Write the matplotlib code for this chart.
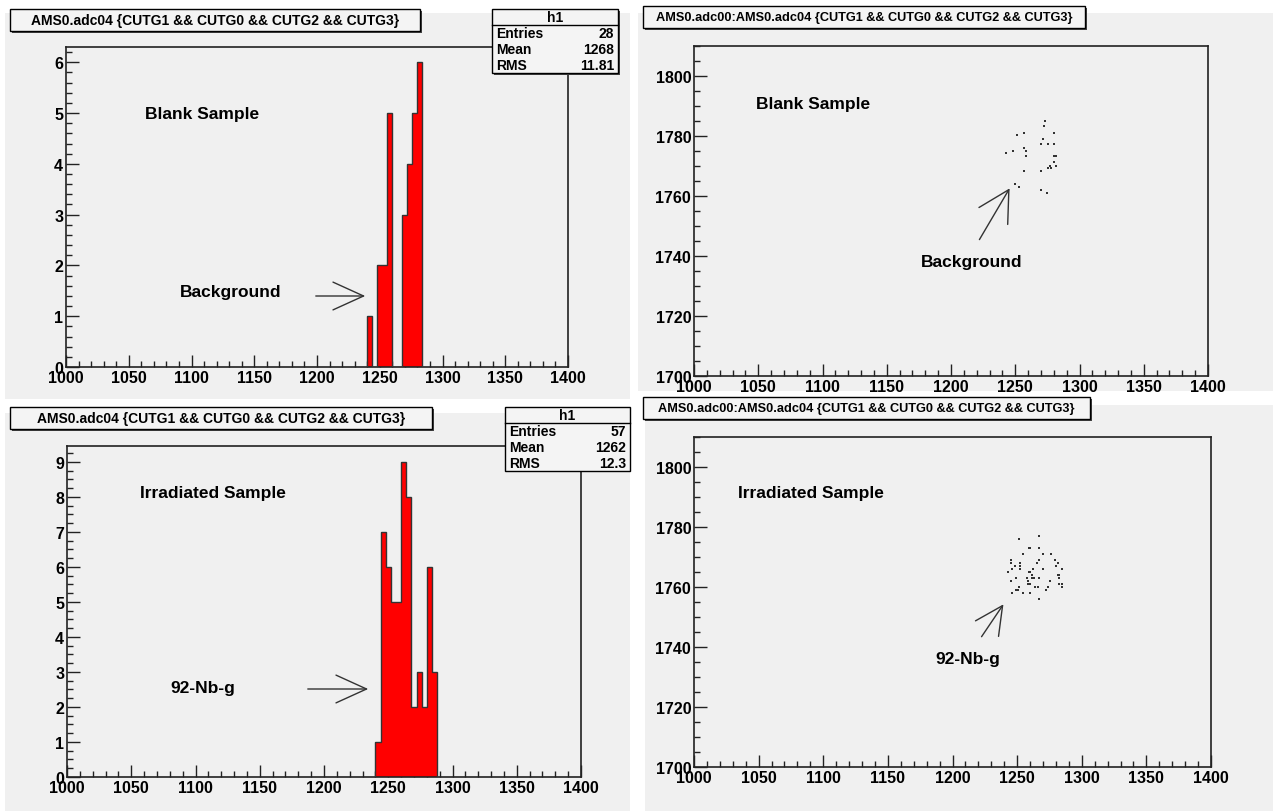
import matplotlib
matplotlib.use("Agg")
import matplotlib.pyplot as plt
from matplotlib.patches import Rectangle, FancyArrowPatch
from matplotlib.ticker import MultipleLocator
import numpy as np

# ---------------- data ----------------
blank_edges = [1240, 1244, 1248, 1252, 1256, 1260, 1264, 1268, 1272, 1276, 1280, 1284]
blank_counts = [1, 0, 2, 2, 5, 0, 0, 3, 4, 5, 6]
irr_edges = [1240, 1244, 1248, 1252, 1256, 1260, 1264, 1268, 1272, 1276, 1280, 1284, 1288]
irr_counts = [1, 7, 6, 5, 5, 9, 8, 2, 3, 2, 6, 3]

blank_adc04 = [1273.5, 1272.5, 1256.7, 1280.5, 1251.5, 1271.5, 1269.7, 1275.6, 1279.8,
               1256.7, 1248.4, 1258.5, 1242.5, 1258.5, 1279.8, 1281.6, 1280.5, 1277.4,
               1281.6, 1275.6, 1277.7, 1256.7, 1269.7, 1249.7, 1252.8, 1270.4, 1274.6]
blank_adc00 = [1785.1, 1783.2, 1781.1, 1781.1, 1780.2, 1779.1, 1777.2, 1777.2, 1777.2,
               1776.1, 1775.1, 1775.1, 1774.2, 1773.2, 1773.2, 1773.2, 1771.2, 1770.1,
               1770.1, 1769.2, 1769.2, 1768.2, 1768.2, 1764.1, 1763.1, 1762.1, 1761.1]

irr_adc04 = [1267.0, 1251.3, 1259.0, 1260.0, 1266.6, 1254.2, 1270.1, 1276.3, 1245.1, 1266.6,
             1279.2, 1245.6, 1252.1, 1265.5, 1281.3, 1248.2, 1252.1, 1280.2, 1245.9, 1252.1,
             1262.1, 1270.1, 1285.1, 1243.3, 1259.0, 1260.0, 1261.4, 1281.3, 1282.3, 1249.0,
             1257.5, 1261.4, 1263.1, 1266.6, 1282.3, 1245.1, 1258.3, 1275.3, 1258.3, 1260.0,
             1282.3, 1285.1, 1251.3, 1264.2, 1266.3, 1274.0, 1284.4, 1249.2, 1250.3, 1272.2,
             1245.9, 1254.9, 1260.0, 1267.0]
irr_adc00 = [1776.9, 1776.0, 1773.0, 1773.0, 1773.0, 1771.0, 1771.0, 1771.0, 1769.0, 1769.0,
             1769.0, 1767.9, 1767.9, 1767.9, 1767.9, 1767.0, 1767.0, 1767.0, 1766.0, 1766.0,
             1766.0, 1766.0, 1766.0, 1765.0, 1764.9, 1764.9, 1763.9, 1763.9, 1763.9, 1762.9,
             1762.9, 1762.9, 1762.9, 1762.9, 1762.9, 1761.9, 1761.9, 1761.9, 1760.9, 1760.9,
             1760.9, 1760.9, 1759.9, 1759.9, 1759.9, 1759.9, 1759.9, 1758.9, 1758.9, 1758.9,
             1758.0, 1758.0, 1758.0, 1755.9]

hist_title = "AMS0.adc04 {CUTG1 && CUTG0 && CUTG2 && CUTG3}"
scat_title = "AMS0.adc00:AMS0.adc04 {CUTG1 && CUTG0 && CUTG2 && CUTG3}"
stats_blank = [("Entries", "28"), ("Mean", "1268"), ("RMS", "11.81")]
stats_irr = [("Entries", "57"), ("Mean", "1262"), ("RMS", "12.3")]

# ---------------- figure ----------------
W, H = 1273, 812
plt.rcParams['font.family'] = ['Liberation Sans', 'DejaVu Sans']
fig = plt.figure(figsize=(W / 100, H / 100), dpi=100)
fig.patch.set_facecolor('white')
PAD = '#f0f0f0'


def fx(x):
    return x / W


def fy(y):
    return 1 - y / H


def add_rect(x0, y0, x1, y1, **kw):
    r = Rectangle((fx(x0), fy(y1)), fx(x1 - x0), (y1 - y0) / H, transform=fig.transFigure, **kw)
    fig.add_artist(r)
    return r


def px_axes(x0, y0, x1, y1):
    return fig.add_axes([fx(x0), fy(y1), fx(x1 - x0), (y1 - y0) / H])


def box(x0, y0, x1, y1, z=5, shadow=True):
    if shadow:
        add_rect(x0 + 2, y0 + 2, x1 + 2, y1 + 2, facecolor='#444444', edgecolor='none', zorder=z)
    add_rect(x0, y0, x1, y1, facecolor='#f4f4f4', edgecolor='black', linewidth=1.0, zorder=z + 0.1)


def text_px(x, y, s, **kw):
    fig.text(fx(x), fy(y), s, transform=fig.transFigure, **kw)


# pad backgrounds
add_rect(5, 14, 630, 400, facecolor=PAD, edgecolor='none', zorder=0)
add_rect(5, 414, 630, 812, facecolor=PAD, edgecolor='none', zorder=0)
add_rect(638, 14, 1273, 392, facecolor=PAD, edgecolor='none', zorder=0)
add_rect(645, 406, 1273, 812, facecolor=PAD, edgecolor='none', zorder=0)


def style_axes(ax, xmaj, xmin, ymaj, ymin):
    ax.set_facecolor(PAD)
    for s in ax.spines.values():
        s.set_linewidth(1.2)
        s.set_color('#222222')
    ax.xaxis.set_major_locator(MultipleLocator(xmaj))
    ax.xaxis.set_minor_locator(MultipleLocator(xmin))
    ax.yaxis.set_major_locator(MultipleLocator(ymaj))
    ax.yaxis.set_minor_locator(MultipleLocator(ymin))
    ax.tick_params(which='both', direction='in', top=False, right=False, width=1.0, color='#222222')
    ax.tick_params(which='major', length=9, labelsize=11.5, pad=2)
    ax.tick_params(which='minor', length=4.5)


def arrow(x0, y0, x1, y1, hl=20, hw=9):
    a = FancyArrowPatch((fx(x0), fy(y0)), (fx(x1), fy(y1)), transform=fig.transFigure,
                        arrowstyle='->,head_length=%g,head_width=%g' % (hl, hw), mutation_scale=1,
                        color='#333333', linewidth=1.0, zorder=10)
    fig.add_artist(a)


def set_ticks(ax, xt, yt):
    ax.set_xticks(xt)
    ax.set_xticklabels([str(v) for v in xt], fontweight='bold')
    ax.set_yticks(yt)
    ax.set_yticklabels([str(v) for v in yt], fontweight='bold')


xt = list(range(1000, 1401, 50))

# ---------- top-left histogram ----------
ax1 = px_axes(66, 48, 568, 368)
ax1.stairs(blank_counts, blank_edges, fill=True, color='#ff0000', zorder=2)
ax1.stairs(blank_counts, blank_edges, color='#333333', linewidth=1.0, baseline=0, zorder=3)
ax1.set_xlim(1000, 1400)
ax1.set_ylim(0, 6.3)
style_axes(ax1, 50, 10, 1, 0.2)
set_ticks(ax1, xt, list(range(0, 7)))

# ---------- bottom-left histogram ----------
ax2 = px_axes(67, 447, 581, 778)
ax2.stairs(irr_counts, irr_edges, fill=True, color='#ff0000', zorder=2)
ax2.stairs(irr_counts, irr_edges, color='#333333', linewidth=1.0, baseline=0, zorder=3)
ax2.set_xlim(1000, 1400)
ax2.set_ylim(0, 9.45)
style_axes(ax2, 50, 10, 1, 0.25)
set_ticks(ax2, xt, list(range(0, 10)))

# ---------- top-right scatter ----------
ax3 = px_axes(694, 47, 1208, 377)
ax3.scatter(blank_adc04, blank_adc00, s=1.5, color='#333333', marker='s', linewidths=0)
ax3.set_xlim(1000, 1400)
ax3.set_ylim(1700, 1810)
style_axes(ax3, 50, 10, 20, 5)
set_ticks(ax3, xt, list(range(1700, 1801, 20)))

# ---------- bottom-right scatter ----------
ax4 = px_axes(694, 438, 1211, 768)
ax4.scatter(irr_adc04, irr_adc00, s=1.5, color='#333333', marker='s', linewidths=0)
ax4.set_xlim(1000, 1400)
ax4.set_ylim(1700, 1810)
style_axes(ax4, 50, 10, 20, 5)
set_ticks(ax4, xt, list(range(1700, 1801, 20)))

# ---------- title boxes ----------
box(10, 10, 420, 32)
text_px(215, 21.5, hist_title, ha='center', va='center', fontsize=10, fontweight='bold', zorder=7)
box(10, 408, 432, 430)
text_px(221, 419.5, hist_title, ha='center', va='center', fontsize=10, fontweight='bold', zorder=7)
box(643, 7, 1085, 29)
text_px(864, 18, scat_title, ha='center', va='center', fontsize=9.2, fontweight='bold', zorder=7)
box(643, 398, 1090, 420)
text_px(866, 409, scat_title, ha='center', va='center', fontsize=9.2, fontweight='bold', zorder=7)


# ---------- stats boxes ----------
def stats(x0, y0, x1, rows, shadow=True):
    rh = 16
    y1 = y0 + 16 + rh * len(rows)
    box(x0, y0, x1, y1, shadow=shadow)
    text_px((x0 + x1) / 2, y0 + 8, "h1", ha='center', va='center', fontsize=10, fontweight='bold', zorder=7)
    fig.add_artist(plt.Line2D([fx(x0), fx(x1)], [fy(y0 + 16), fy(y0 + 16)], transform=fig.transFigure,
                              color='black', linewidth=1.0, zorder=7))
    for i, (k, v) in enumerate(rows):
        yy = y0 + 16 + rh * i + rh / 2
        text_px(x0 + 4, yy, k, ha='left', va='center', fontsize=10, fontweight='bold', zorder=7)
        text_px(x1 - 4, yy, v, ha='right', va='center', fontsize=10, fontweight='bold', zorder=7)


stats(492, 10, 618, stats_blank)
stats(505, 408, 630, stats_irr, shadow=False)

# ---------- annotations ----------
ann = dict(fontsize=12.5, fontweight='bold', ha='left', va='center', zorder=8)
text_px(145, 114, "Blank Sample", **ann)
text_px(180, 293, "Background", **ann)
arrow(313, 297, 368, 297, hl=22, hw=10)
text_px(140, 494, "Irradiated Sample", **ann)
text_px(170, 689, "92-Nb-g", **ann)
arrow(305, 690, 371, 690, hl=22, hw=10)
text_px(756, 104, "Blank Sample", **ann)
text_px(921, 262, "Background", **ann)
arrow(978, 243, 1011, 187, hl=22, hw=12)
text_px(738, 494, "Irradiated Sample", **ann)
text_px(935, 660, "92-Nb-g", **ann)
arrow(980, 640, 1005, 603, hl=20, hw=10)

fig.savefig("out.png", dpi=100, facecolor='white')
